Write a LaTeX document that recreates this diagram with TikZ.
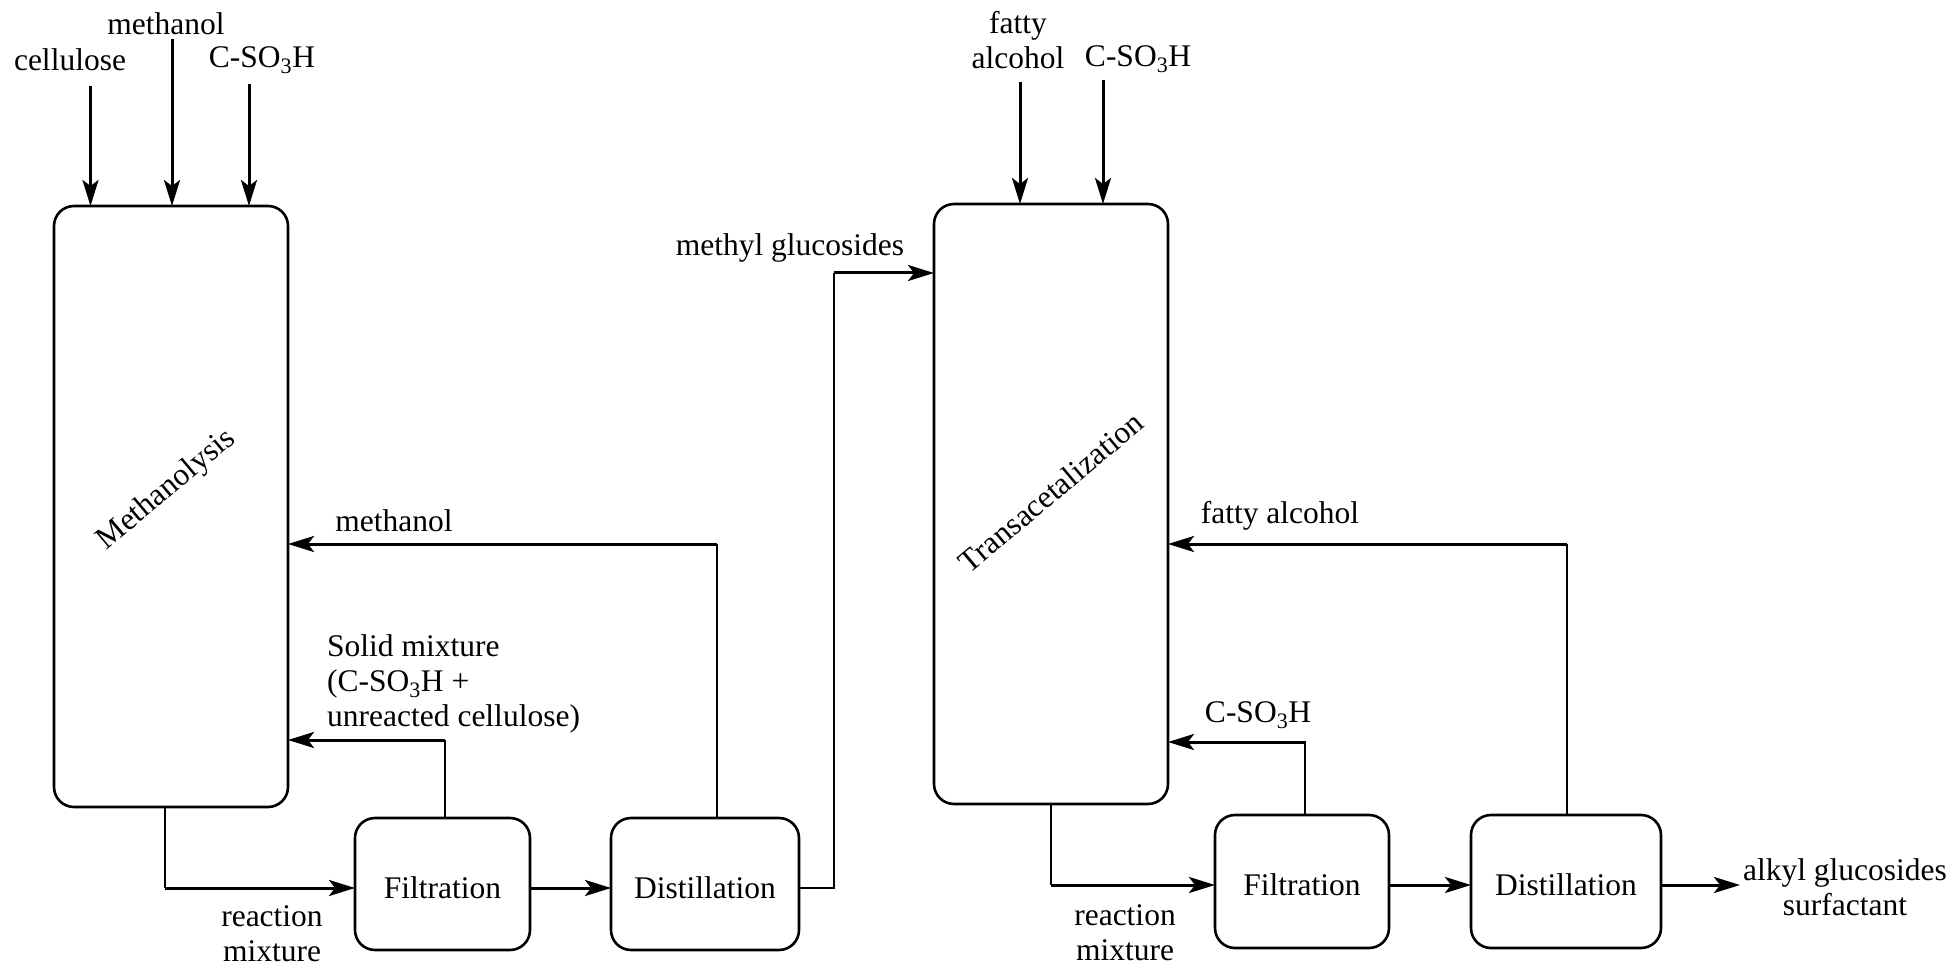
\documentclass[tikz,border=0pt]{standalone}
\usepackage{fontspec}
\setmainfont{Liberation Serif}
\usetikzlibrary{arrows.meta}
\newcommand{\csoh}{C-SO\textsubscript{3}H}
\begin{document}
\begin{tikzpicture}[x=1pt,y=-1pt,
  every node/.style={font=\fontsize{31.5}{38}\selectfont, inner sep=0pt},
  unit/.style={draw, line width=2.6pt, rounded corners=20pt},
  arr/.style={line width=3pt, -{Stealth[length=26pt,width=16pt,inset=6pt]}},
  ln/.style={line width=2.2pt},
  lbl/.style={align=center}]
\useasboundingbox (0,0) rectangle (1955,968);
% boxes
\draw[unit] (54,206) rectangle (288,807);
\node[rotate=40] (mlab) at (167,490) {Methanolysis};
\draw[unit] (355,818) rectangle (530,950);
\node (f1) at (442.5,888) {Filtration};
\draw[unit] (611,818) rectangle (799,950);
\node (d1) at (705,888) {Distillation};
\draw[unit] (934,204) rectangle (1168,804);
\node[rotate=40] (tlab) at (1051,492) {Transacetalization};
\draw[unit] (1215,815) rectangle (1389,948);
\node (f2) at (1302,885) {Filtration};
\draw[unit] (1471,815) rectangle (1661,948);
\node (d2) at (1566,885) {Distillation};
% named coordinates on the boxes
\coordinate (m1) at (90.5,206);
\coordinate (m2) at (172,206);
\coordinate (m3) at (249,206);
\coordinate (t1) at (1020,204);
\coordinate (t2) at (1103,204);
% inputs top left
\node (cel) at (70,60) {cellulose};
\node (meo) at (166,24) {methanol};
\node (cs1) at (262,60) {\csoh};
\coordinate (cel0) at (90.5,86);
\coordinate (meo0) at (172,39);
\coordinate (cs10) at (249,84);
\draw[arr] (cel0) -- (m1);
\draw[arr] (meo0) -- (m2);
\draw[arr] (cs10) -- (m3);
% inputs top right
\node[lbl] (fa) at (1018,40) {fatty\\[-3pt]alcohol};
\node (cs2) at (1138,59) {\csoh};
\coordinate (fa0) at (1020,82);
\coordinate (cs20) at (1103,80);
\draw[arr] (fa0) -- (t1);
\draw[arr] (cs20) -- (t2);
% left process row
\draw[ln] (165,807) -- (165,888);
\draw[arr] (165,888) -- (355,888);
\node[lbl] (rm1) at (272,934) {reaction\\[-3pt]mixture};
\draw[arr] (530,888) -- (611,888);
% methyl glucosides
\draw[ln] (799,888) -- (834,888) -- (834,273);
\draw[arr] (834,273) -- (934,273);
\node (mg) at (790,248) {methyl glucosides};
% methanol recycle
\draw[ln] (717,818) -- (717,544);
\draw[arr] (717,544) -- (288,544);
\node (mr) at (394,521) {methanol};
% solid mixture recycle
\draw[ln] (445,818) -- (445,740);
\draw[arr] (445,740) -- (288,740);
\node[align=left,anchor=west] (sm) at (327,684) {Solid mixture\\[-3pt](\csoh\ +\\[-3pt]unreacted cellulose)};
% right process row
\draw[ln] (1051,804) -- (1051,885);
\draw[arr] (1051,885) -- (1215,885);
\node[lbl] (rm2) at (1125,933) {reaction\\[-3pt]mixture};
\draw[arr] (1389,885) -- (1471,885);
\draw[arr] (1661,885) -- (1740,885);
\node[lbl] (ags) at (1845,887) {alkyl glucosides\\[-3pt]surfactant};
% fatty alcohol recycle
\draw[ln] (1567,815) -- (1567,544);
\draw[arr] (1567,544) -- (1168,544);
\node (far) at (1280,516) {fatty alcohol};
% C-SO3H recycle
\draw[ln] (1305,815) -- (1305,742);
\draw[arr] (1306,742) -- (1168,742);
\node (cs3) at (1258,715) {\csoh};
\end{tikzpicture}
\end{document}
